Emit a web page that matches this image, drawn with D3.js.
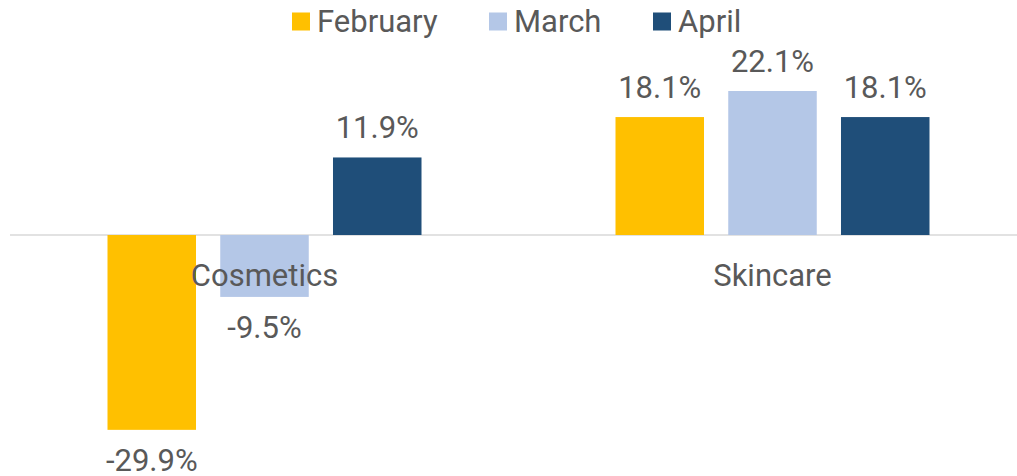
<!DOCTYPE html>
<html>
<head>
<meta charset="utf-8">
<script src="https://cdn.jsdelivr.net/npm/d3@7"></script>
<style>
  body { margin: 0; background: #fff; }
  text { font-family: Roboto, sans-serif; fill: #595959; }
</style>
</head>
<body>
<svg width="1017" height="476"></svg>
<script>
'use strict'

const categories = ['Cosmetics', 'Skincare']
const months = ['February', 'March', 'April']
const february = [-29.9, 18.1]
const march = [-9.5, 22.1]
const april = [11.9, 18.1]
const colors = ['#FFC000', '#B4C7E7', '#1F4E79']

const seriesValues = [february, march, april]
const rows = categories.map((c, i) => ({
  category: c,
  values: months.map((m, j) => ({ month: m, value: seriesValues[j][i] }))
}))

const svg = d3.select('svg')

const x0 = d3.scaleBand().domain(categories).range([10, 1026]).padding(0)
const x1 = d3.scaleBand().domain(months).range([97.5, 411.5]).paddingInner(0.215)
const y = d3.scaleLinear().domain([-30, 25]).range([430.5, 72.1])
const color = d3.scaleOrdinal().domain(months).range(colors)

// zero line
svg.append('line')
  .attr('x1', 10).attr('x2', 1017)
  .attr('y1', y(0)).attr('y2', y(0))
  .style('stroke', '#D9D9D9')
  .style('stroke-width', 1.5)

const groups = svg.selectAll('g.cat').data(rows)
  .enter()
  .append('g')
  .classed('cat', true)
  .attr('transform', (d) => `translate(${x0(d.category)},0)`)

groups.selectAll('rect').data((d) => d.values)
  .enter()
  .append('rect')
  .attr('x', (d) => x1(d.month))
  .attr('width', x1.bandwidth())
  .attr('y', (d) => y(Math.max(0, d.value)))
  .attr('height', (d) => Math.abs(y(d.value) - y(0)))
  .style('fill', (d) => color(d.month))

// category labels (drawn over bars like the original)
groups.append('text')
  .attr('x', x0.bandwidth() / 2 + 0.5)
  .attr('y', 286)
  .attr('text-anchor', 'middle')
  .style('font-size', '31px')
  .text((d) => d.category)

groups.selectAll('text.val').data((d) => d.values)
  .enter()
  .append('text')
  .classed('val', true)
  .attr('x', (d) => x1(d.month) + x1.bandwidth() / 2)
  .attr('y', (d) => d.value >= 0 ? y(d.value) - 19 : y(d.value) + 41)
  .attr('text-anchor', 'middle')
  .style('font-size', '31px')
  .text((d) => `${d.value.toFixed(1)}%`)

// legend
const legendX = [292, 489, 653]
const legend = svg.selectAll('g.legend').data(months)
  .enter()
  .append('g')
  .classed('legend', true)
  .attr('transform', (d, i) => `translate(${legendX[i]},0)`)

legend.append('rect')
  .attr('x', 0).attr('y', 12.5)
  .attr('width', 18).attr('height', 18)
  .style('fill', (d) => color(d))

legend.append('text')
  .attr('x', 25)
  .attr('y', 32)
  .style('font-size', '31px')
  .text((d) => d)
</script>
</body>
</html>
